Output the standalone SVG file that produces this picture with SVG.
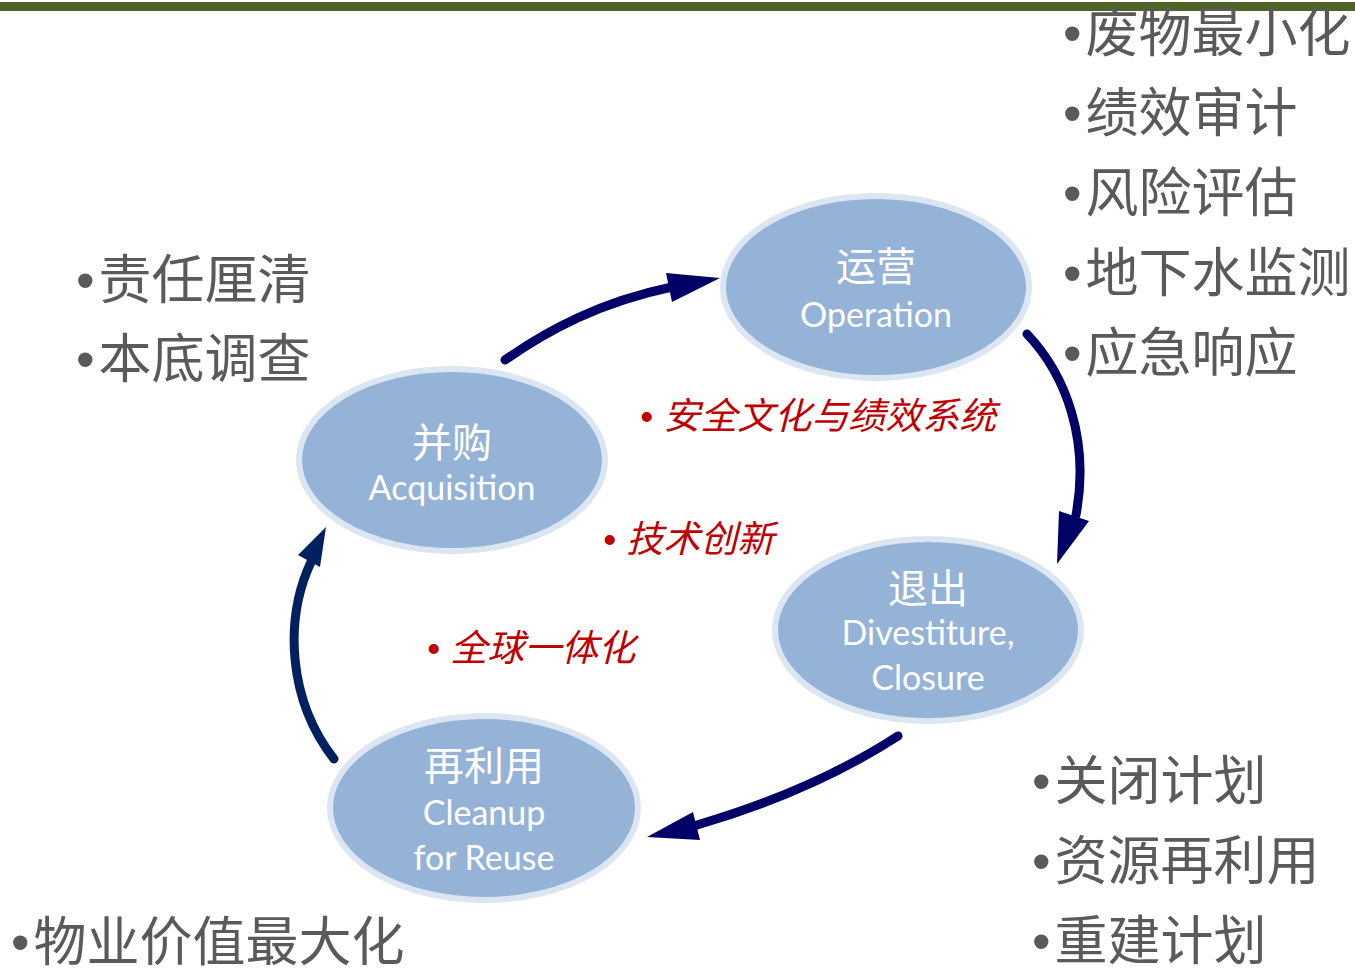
<svg xmlns="http://www.w3.org/2000/svg" width="1355" height="973" viewBox="0 0 1355 973">
<style>
.node ellipse{fill:#95B3D7;stroke:#DCE6F2;stroke-width:6}
.cn{font-family:"Noto Sans CJK SC",sans-serif;font-size:40px;fill:#FFFFFF;text-anchor:middle}
.en{font-family:Lato,"Liberation Sans",sans-serif;font-size:34px;fill:#FFFFFF;text-anchor:middle}
.gray{font-family:"Liberation Sans","Noto Sans CJK SC",sans-serif;font-size:53px;fill:#5A5A5A}
.red{font-family:"Liberation Sans","Noto Sans CJK SC",sans-serif;font-size:37px;fill:#C00000;font-style:italic}
.conn path{fill:none;stroke-width:9;stroke-linecap:round}
</style>
<rect x="0" y="2" width="1355" height="9" fill="#4F6228"/>
<g id="connectors" class="conn">
<path d="M505,360 C548,330 600,302 672,287" stroke="#000066"/>
<polygon points="720,278 666,273 672,302" fill="#000066"/>
<path d="M1027,334 C1066,375 1090,440 1076,515" stroke="#000066"/>
<polygon points="1057,564 1059,511 1089,521" fill="#000066"/>
<path d="M898,736 C830,780 762,806 697,825" stroke="#000066"/>
<polygon points="647,837 693,812 700,840" fill="#000066"/>
<path d="M334,759 C288,700 284,620 311,562" stroke="#002060"/>
<polygon points="326,527 298,555 320,567" fill="#002060"/>
</g>
<g id="node-operation" class="node">
<ellipse cx="876" cy="287" rx="153" ry="91"/>
<text class="cn" x="876" y="281">运营</text>
<text class="en" x="876" y="327">Operation</text>
</g>
<g id="node-acquisition" class="node">
<ellipse cx="452" cy="460" rx="153" ry="91"/>
<text class="cn" x="452" y="457">并购</text>
<text class="en" x="452" y="500">Acquisition</text>
</g>
<g id="node-divestiture" class="node">
<ellipse cx="928" cy="630" rx="153" ry="91"/>
<text class="cn" x="928" y="603">退出</text>
<text class="en" x="928" y="645">Divestiture,</text>
<text class="en" x="928" y="690">Closure</text>
</g>
<g id="node-reuse" class="node">
<ellipse cx="484" cy="808" rx="154" ry="92"/>
<text class="cn" x="484" y="780">再利用</text>
<text class="en" x="484" y="825">Cleanup</text>
<text class="en" x="484" y="870">for Reuse</text>
</g>
<g id="labels-left">
<text class="gray" x="76" y="299">•<tspan dx="4">责任厘清</tspan></text>
<text class="gray" x="76" y="378">•<tspan dx="4">本底调查</tspan></text>
</g>
<g id="labels-right-top">
<text class="gray" x="1063" y="52">•<tspan dx="4">废物最小化</tspan></text>
<text class="gray" x="1063" y="132">•<tspan dx="4">绩效审计</tspan></text>
<text class="gray" x="1063" y="212">•<tspan dx="4">风险评估</tspan></text>
<text class="gray" x="1063" y="292">•<tspan dx="4">地下水监测</tspan></text>
<text class="gray" x="1063" y="372">•<tspan dx="4">应急响应</tspan></text>
</g>
<g id="labels-right-bottom">
<text class="gray" x="1032" y="800">•<tspan dx="4">关闭计划</tspan></text>
<text class="gray" x="1032" y="880">•<tspan dx="4">资源再利用</tspan></text>
<text class="gray" x="1032" y="960">•<tspan dx="4">重建计划</tspan></text>
</g>
<g id="labels-bottom-left">
<text class="gray" x="11" y="961">•<tspan dx="4">物业价值最大化</tspan></text>
</g>
<g id="labels-center">
<text class="red" x="640" y="429">• 安全文化与绩效系统</text>
<text class="red" x="603" y="552">• 技术创新</text>
<text class="red" x="427" y="661">• 全球一体化</text>
</g>
</svg>
